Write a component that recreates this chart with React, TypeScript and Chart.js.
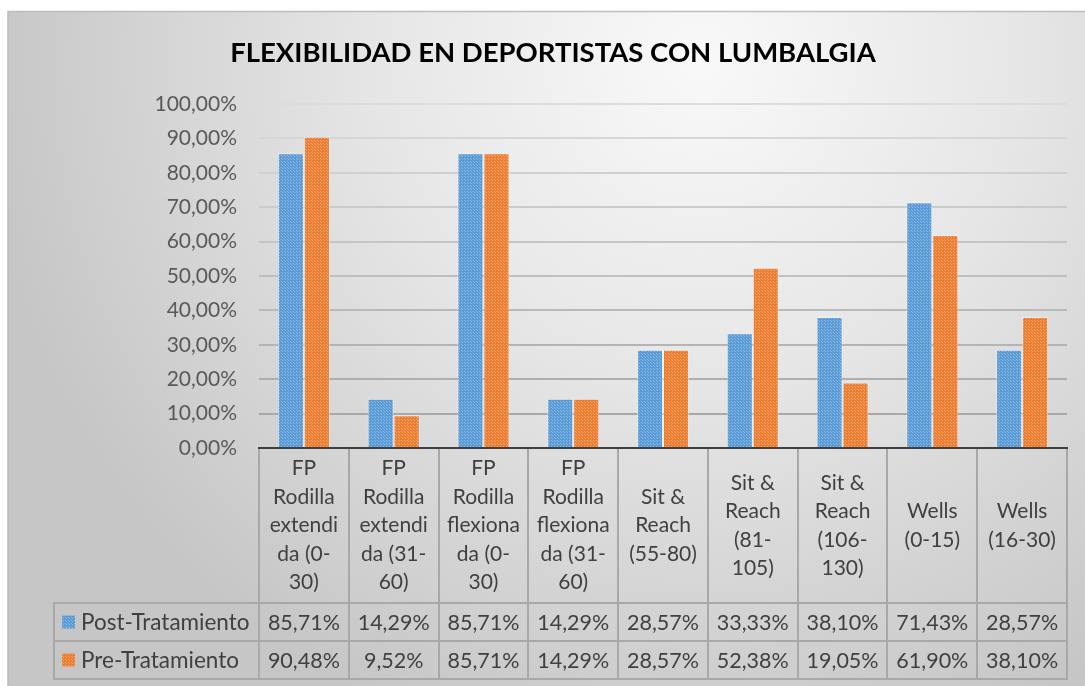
import React, { useEffect, useRef } from "react";
import { Chart, registerables } from "chart.js";

Chart.register(...registerables);

const titleText = "FLEXIBILIDAD EN DEPORTISTAS CON LUMBALGIA";

const categories: string[][] = [
  ["FP", "Rodilla", "extendi", "da (0-", "30)"],
  ["FP", "Rodilla", "extendi", "da (31-", "60)"],
  ["FP", "Rodilla", "flexiona", "da (0-", "30)"],
  ["FP", "Rodilla", "flexiona", "da (31-", "60)"],
  ["Sit &", "Reach", "(55-80)"],
  ["Sit &", "Reach", "(81-", "105)"],
  ["Sit &", "Reach", "(106-", "130)"],
  ["Wells", "(0-15)"],
  ["Wells", "(16-30)"],
];

const seriesNames = ["Post-Tratamiento", "Pre-Tratamiento"];
const postValues = [85.71, 14.29, 85.71, 14.29, 28.57, 33.33, 38.1, 71.43, 28.57];
const preValues = [90.48, 9.52, 85.71, 14.29, 28.57, 52.38, 19.05, 61.9, 38.1];

const yMin = 0;
const yMax = 100;
const yStep = 10;

const FONT = "Lato, 'Open Sans', 'DejaVu Sans', sans-serif";

const fmt = (v: number) => v.toFixed(2).replace(".", ",") + "%";

function makePattern(base: string, light: string): CanvasPattern | string {
  const c = document.createElement("canvas");
  c.width = 3;
  c.height = 3;
  const g = c.getContext("2d");
  if (!g) return base;
  g.fillStyle = base;
  g.fillRect(0, 0, 3, 3);
  g.fillStyle = light;
  g.fillRect(0, 0, 1, 1);
  g.fillRect(2, 2, 1, 1);
  const p = g.createPattern(c, "repeat");
  return p || base;
}

export default function App() {
  const ref = useRef<HTMLCanvasElement | null>(null);

  useEffect(() => {
    if (!ref.current) return;
    const bluePat = makePattern("#5b9bd5", "#8dbbe8");
    const orangePat = makePattern("#ed7d31", "#f4a670");
    const patterns = [bluePat, orangePat];

    const bgPlugin = {
      id: "bg",
      beforeDraw(chart: any) {
        const ctx = chart.ctx as CanvasRenderingContext2D;
        ctx.save();
        ctx.fillStyle = "#ffffff";
        ctx.fillRect(0, 0, chart.width, chart.height);
        const g = ctx.createRadialGradient(700, 60, 0, 700, 60, 720);
        g.addColorStop(0, "#f9f9f9");
        g.addColorStop(0.45, "#e6e6e6");
        g.addColorStop(1, "#c6c6c6");
        ctx.fillStyle = g;
        ctx.fillRect(8, 11, chart.width - 8, chart.height - 11);
        ctx.strokeStyle = "#bdbdbd";
        ctx.lineWidth = 1.5;
        ctx.beginPath();
        ctx.moveTo(8, chart.height);
        ctx.lineTo(8, 11.5);
        ctx.lineTo(chart.width, 11.5);
        ctx.stroke();
        ctx.restore();
      },
      afterDraw(chart: any) {
        const ctx = chart.ctx as CanvasRenderingContext2D;
        const area = chart.chartArea;
        const x = chart.scales.x;
        const n = categories.length;
        const colW = (area.right - area.left) / n;
        const headTop = area.bottom;
        const headBottom = headTop + 155;
        const row1 = headBottom + 38;
        const row2 = row1 + 38;
        const legendLeft = 54;

        ctx.save();
        // title
        ctx.fillStyle = "#000000";
        ctx.font = `bold 27.5px ${FONT}`;
        ctx.textAlign = "center";
        ctx.textBaseline = "middle";
        ctx.fillText(titleText, 553, 53);

        // table lines
        ctx.strokeStyle = "#a8a8a8";
        ctx.lineWidth = 2;
        ctx.beginPath();
        for (let i = 0; i <= n; i++) {
          const xp = Math.round(area.left + i * colW);
          ctx.moveTo(xp, headTop + 1);
          ctx.lineTo(xp, row2);
        }
        ctx.moveTo(legendLeft, headBottom);
        ctx.lineTo(legendLeft, row2);
        [headBottom, row1, row2].forEach((yy) => {
          ctx.moveTo(legendLeft - 1, yy);
          ctx.lineTo(area.right + 1, yy);
        });
        ctx.stroke();

        // category labels
        ctx.fillStyle = "#404040";
        ctx.font = `21px ${FONT}`;
        ctx.textAlign = "center";
        ctx.textBaseline = "middle";
        const lh = 28.5;
        const headMid = (headTop + headBottom) / 2;
        categories.forEach((lines, i) => {
          const cx = x.getPixelForValue(i);
          const y0 = headMid - ((lines.length - 1) * lh) / 2;
          lines.forEach((ln, j) => ctx.fillText(ln, cx, y0 + j * lh));
        });

        // values
        const rows = [postValues, preValues];
        const rowMids = [(headBottom + row1) / 2, (row1 + row2) / 2];
        ctx.font = `21.5px ${FONT}`;
        rows.forEach((vals, r) => {
          vals.forEach((v, i) => {
            ctx.fillText(fmt(v), x.getPixelForValue(i), rowMids[r] + 1);
          });
        });

        // legend keys
        ctx.textAlign = "left";
        ctx.font = `22.5px ${FONT}`;
        seriesNames.forEach((name, r) => {
          const my = rowMids[r];
          ctx.fillStyle = patterns[r] as any;
          ctx.fillRect(62, my - 6.5, 13, 13);
          ctx.fillStyle = "#404040";
          ctx.fillText(name, 81, my + 1);
        });
        ctx.restore();
      },
    };

    const chart = new Chart(ref.current, {
      type: "bar",
      data: {
        labels: categories.map((c) => c.join(" ")),
        datasets: [
          {
            label: seriesNames[0],
            data: postValues,
            backgroundColor: bluePat as any,
            borderColor: "rgba(255,255,255,0.45)",
            borderWidth: 1,
            categoryPercentage: 0.58,
            barPercentage: 1,
          },
          {
            label: seriesNames[1],
            data: preValues,
            backgroundColor: orangePat as any,
            borderColor: "rgba(255,255,255,0.45)",
            borderWidth: 1,
            categoryPercentage: 0.58,
            barPercentage: 1,
          },
        ],
      },
      options: {
        responsive: false,
        animation: false,
        devicePixelRatio: 1,
        layout: { padding: { left: 8, right: 18, top: 104, bottom: 0 } },
        plugins: {
          legend: { display: false },
          tooltip: { enabled: false },
          title: { display: false },
        },
        scales: {
          x: {
            grid: { display: false },
            border: { display: true, color: "#3f3f3f", width: 2 },
            ticks: { display: false },
            afterFit: (s: any) => {
              s.height = 238;
            },
          },
          y: {
            min: yMin,
            max: yMax,
            ticks: {
              stepSize: yStep,
              callback: (v: any) => fmt(Number(v)),
              font: { family: FONT, size: 21 },
              color: "#595959",
              padding: 22,
            },
            grid: {
              drawTicks: false,
              lineWidth: 2,
              color: (ctx: any) => {
                const v = ctx.tick ? ctx.tick.value : 0;
                if (v === 0) return "rgba(0,0,0,0)";
                const t = (v - 10) / 90;
                const c = Math.round(168 + t * 52);
                return `rgb(${c},${c},${c})`;
              },
            },
            border: { display: false },
            afterFit: (s: any) => {
              s.width = 251;
            },
          },
        },
      },
      plugins: [bgPlugin],
    });
    return () => chart.destroy();
  }, []);

  return (
    <div style={{ position: "fixed", left: 0, top: 0, width: 1085, height: 686 }}>
      <canvas ref={ref} width={1085} height={686} style={{ display: "block" }} />
    </div>
  );
}
